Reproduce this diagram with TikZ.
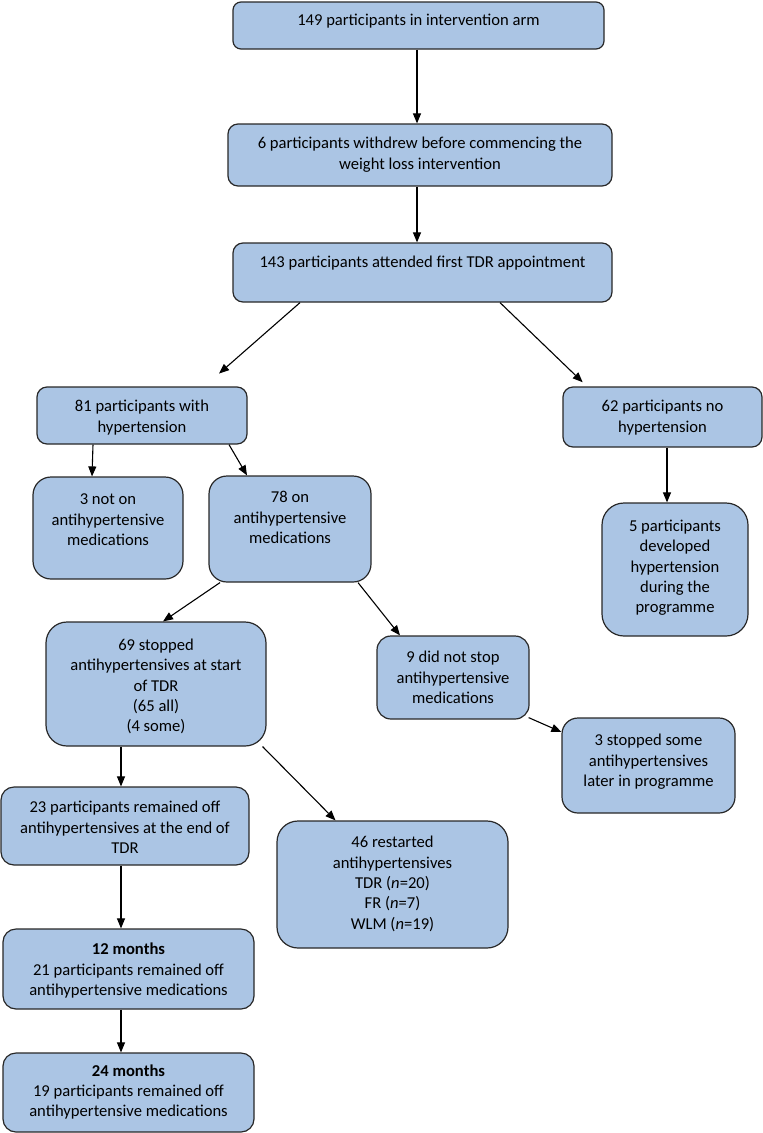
\documentclass[tikz,border=0pt]{standalone}
\usepackage{fontspec}
\setmainfont{Carlito}
\usetikzlibrary{arrows.meta}
\definecolor{boxfill}{RGB}{171,197,228}
\definecolor{boxline}{RGB}{40,40,40}
\newcommand\bxt[2]{\raisebox{#1}[\height][\depth]{\begin{tabular}{@{}c@{}}#2\end{tabular}}}
\begin{document}
\begin{tikzpicture}[x=1pt,y=-1pt,
  fbox/.style args={#1/#2/#3}{draw=boxline, line width=1.2pt, fill=boxfill,
    rounded corners=#3, minimum width=#1, minimum height=#2, inner sep=0pt,
    font=\fontsize{16.6pt}{20.3pt}\selectfont, text=black},
  arr/.style={-{Triangle[length=10pt,width=8pt]}, line width=1.1pt, black}]
\useasboundingbox (0,0) rectangle (763,1133);

\node[fbox=371pt/47pt/8pt]   (b1)  at (418.5,25.5) {\bxt{4.5pt}{149 participants in intervention arm}};
\node[fbox=384pt/62pt/10pt]  (b2)  at (420,155)    {\bxt{0pt}{6 participants withdrew before commencing the\\weight loss intervention}};
\node[fbox=379pt/59pt/10pt]  (b3)  at (422.5,272.5){\bxt{9.5pt}{143 participants attended first TDR appointment}};
\node[fbox=210pt/57pt/10pt]  (b4)  at (142,415.5)  {\bxt{-2.5pt}{81 participants with\\hypertension}};
\node[fbox=199pt/60pt/10pt]  (b5)  at (662.5,417)  {\bxt{-1pt}{62 participants no\\hypertension}};
\node[fbox=150pt/102pt/18pt] (b6)  at (108,528)    {\bxt{7pt}{3 not on\\antihypertensive\\medications}};
\node[fbox=162pt/106pt/18pt] (b7)  at (290,529)    {\bxt{10pt}{78 on\\antihypertensive\\medications}};
\node[fbox=146pt/133pt/22pt] (b8)  at (675,569.5)  {\bxt{1.5pt}{5 participants\\developed\\hypertension\\during the\\programme}};
\node[fbox=220pt/124pt/21pt] (b9)  at (156,684)    {\bxt{-3pt}{69 stopped\\antihypertensives at start\\of TDR\\(65 all)\\(4 some)}};
\node[fbox=152pt/83pt/14pt]  (b10) at (453,677.5)  {\bxt{-1.5pt}{9 did not stop\\antihypertensive\\medications}};
\node[fbox=173pt/95pt/16pt]  (b11) at (648.5,765.5){\bxt{3.5pt}{3 stopped some\\antihypertensives\\later in programme}};
\node[fbox=248pt/78pt/13pt]  (b12) at (125,826)    {\bxt{-3pt}{23 participants remained off\\antihypertensives at the end of\\TDR}};
\node[fbox=231pt/127pt/21pt] (b13) at (392.5,884.5){\bxt{0pt}{46 restarted\\antihypertensives\\TDR (\textit{n}=20)\\FR (\textit{n}=7)\\WLM (\textit{n}=19)}};
\node[fbox=251pt/80pt/13pt]  (b14) at (128.5,969)  {\bxt{-2pt}{\textbf{12 months}\\21 participants remained off\\antihypertensive medications}};
\node[fbox=251pt/79pt/13pt]  (b15) at (128.5,1092.5){\bxt{0pt}{\textbf{24 months}\\19 participants remained off\\antihypertensive medications}};

\draw[arr] ([xshift=-1.5pt]b1.south) -- ([xshift=-3pt]b2.north);
\draw[arr] ([xshift=-3pt]b2.south) -- ([xshift=-5.5pt]b3.north);
\draw[arr, shorten >=19.5pt] ([xshift=-122.5pt]b3.south) -- ([xshift=62.4pt]b4.north);
\draw[arr, shorten >=6pt] ([xshift=77.5pt]b3.south) -- ([xshift=-75.5pt]b5.north);
\draw[arr] ([xshift=4.5pt]b5.south) -- ([xshift=-8pt]b8.north);
\draw[arr] ([xshift=-49pt]b4.south) -- ([xshift=-16pt]b6.north);
\draw[arr] ([xshift=87pt]b4.south) -- ([xshift=-43pt]b7.north);
\draw[arr] ([xshift=-70pt]b7.south) -- ([xshift=7pt]b9.north);
\draw[arr] ([xshift=68pt]b7.south) -- ([xshift=-53pt]b10.north);
\draw[arr] ([xshift=-1pt,yshift=2pt]b10.south east) -- ([yshift=33.5pt]b11.west);
\draw[arr] ([xshift=-35pt]b9.south) -- ([xshift=-4pt]b12.north);
\draw[arr] ([xshift=-4pt]b9.south east) -- ([xshift=-57pt]b13.north);
\draw[arr] ([xshift=-4pt]b12.south) -- ([xshift=-7.5pt]b14.north);
\draw[arr] ([xshift=-7.5pt]b14.south) -- ([xshift=-7.5pt]b15.north);
\end{tikzpicture}
\end{document}
